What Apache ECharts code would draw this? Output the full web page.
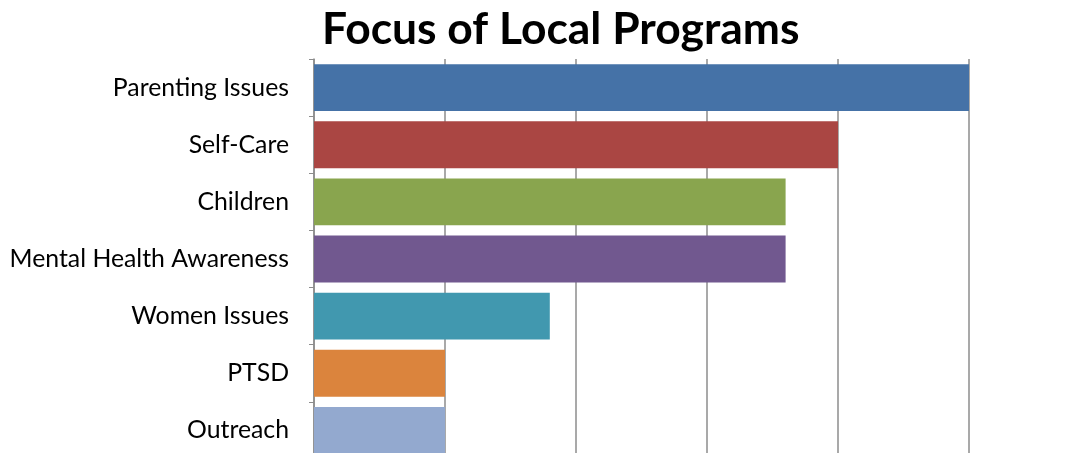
<!DOCTYPE html>
<html><head><meta charset="utf-8">
<script src="https://cdn.jsdelivr.net/npm/echarts@6/dist/echarts.min.js"></script>
<style>html,body{margin:0;padding:0;background:#fff}#c{width:1091px;height:453px}</style>
</head><body><div id="c"></div>
<script>
const categories = ["Parenting Issues","Self-Care","Children","Mental Health Awareness","Women Issues","PTSD","Outreach"];
const values = [25,20,18,18,9,5,5];
const colors = ["#4572A7","#AA4643","#89A54E","#71588F","#4198AF","#DB843D","#93A9CF"];
const chart = echarts.init(document.getElementById('c'));
chart.setOption({
  animation:false,
  title:{text:"Focus of Local Programs",left:317,top:3,textStyle:{fontFamily:"Lato",fontWeight:"bold",fontSize:44.4,color:"#000"}},
  grid:{left:314,width:655,top:59,height:400,containLabel:false,outerBoundsMode:'none'},
  xAxis:{type:'value',min:0,max:25,interval:5,axisLabel:{show:false},axisLine:{show:false},axisTick:{show:false},
    splitLine:{show:true,lineStyle:{color:'#8c8c8c',width:1.5}}},
  yAxis:{type:'category',inverse:true,data:categories,
    axisLine:{show:true,lineStyle:{color:'#8c8c8c',width:1.5}},
    axisTick:{show:true,length:5,lineStyle:{color:'#8c8c8c'}},
    axisLabel:{margin:25,fontFamily:"Lato",fontSize:24.8,color:'#000'}},
  series:[{type:'bar',data:values.map((v,i)=>({value:v,itemStyle:{color:colors[i]}})),barCategoryGap:'18%'}]
});
</script></body></html>
